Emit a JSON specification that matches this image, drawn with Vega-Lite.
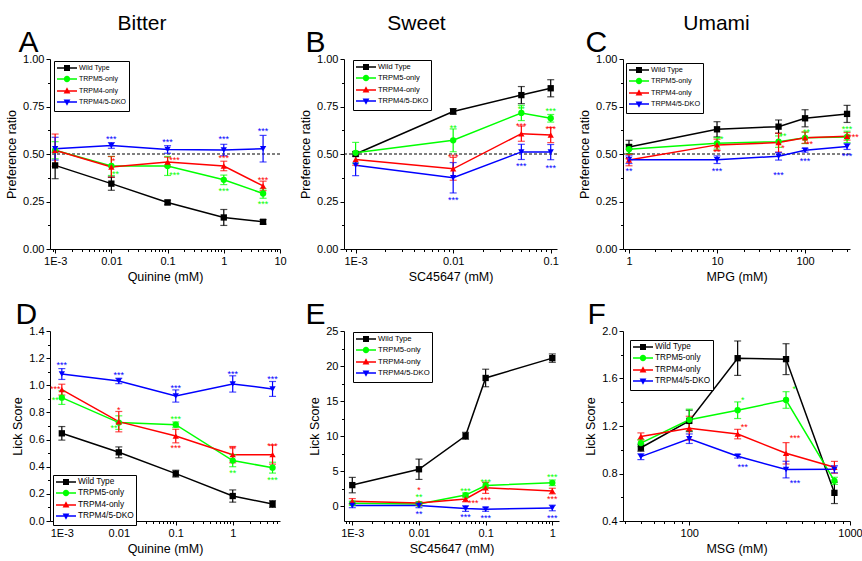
{
"$schema": "https://vega.github.io/schema/vega-lite/v6.json",
"padding": {"left": 5, "top": 13, "right": 5, "bottom": 5},
"config": {
  "font": "Liberation Sans",
  "view": {"stroke": null},
  "axis": {"grid": false, "domainColor": "#000", "domainWidth": 1, "tickColor": "#000", "tickWidth": 1, "labelColor": "#000", "titleColor": "#000", "labelFontSize": 11, "titleFontSize": 12.5, "titleFontWeight": "normal", "tickSize": 4, "labelPadding": 2, "labelFlush": false, "labelOverlap": false},
  "legend": {"strokeColor": "#000", "strokeWidth": 1, "fillColor": "#fff"},
  "title": {"fontSize": 21, "fontWeight": "normal", "color": "#000", "anchor": "middle", "frame": "group"}
},
"datasets": {
"pts": [
{"panel":"A","series":"Wild Type","x":0.001,"y":0.44,"err":0.07},
{"panel":"A","series":"Wild Type","x":0.01,"y":0.344,"err":0.035},
{"panel":"A","series":"Wild Type","x":0.1,"y":0.245,"err":0.012},
{"panel":"A","series":"Wild Type","x":1,"y":0.166,"err":0.042},
{"panel":"A","series":"Wild Type","x":5,"y":0.143,"err":0.012},
{"panel":"A","series":"TRPM5-only","x":0.001,"y":0.52,"err":0.045},
{"panel":"A","series":"TRPM5-only","x":0.01,"y":0.437,"err":0.05},
{"panel":"A","series":"TRPM5-only","x":0.1,"y":0.437,"err":0.05},
{"panel":"A","series":"TRPM5-only","x":1,"y":0.364,"err":0.025},
{"panel":"A","series":"TRPM5-only","x":5,"y":0.292,"err":0.025},
{"panel":"A","series":"TRPM4-only","x":0.001,"y":0.52,"err":0.085},
{"panel":"A","series":"TRPM4-only","x":0.01,"y":0.432,"err":0.055},
{"panel":"A","series":"TRPM4-only","x":0.1,"y":0.458,"err":0.025},
{"panel":"A","series":"TRPM4-only","x":1,"y":0.437,"err":0.025},
{"panel":"A","series":"TRPM4-only","x":5,"y":0.332,"err":0.025},
{"panel":"A","series":"TRPM4/5-DKO","x":0.001,"y":0.528,"err":0.06},
{"panel":"A","series":"TRPM4/5-DKO","x":0.01,"y":0.545,"err":0.015},
{"panel":"A","series":"TRPM4/5-DKO","x":0.1,"y":0.524,"err":0.02},
{"panel":"A","series":"TRPM4/5-DKO","x":1,"y":0.521,"err":0.03},
{"panel":"A","series":"TRPM4/5-DKO","x":5,"y":0.528,"err":0.07},
{"panel":"B","series":"Wild Type","x":0.001,"y":0.50,"err":0.012},
{"panel":"B","series":"Wild Type","x":0.01,"y":0.724,"err":0.015},
{"panel":"B","series":"Wild Type","x":0.05,"y":0.81,"err":0.045},
{"panel":"B","series":"Wild Type","x":0.1,"y":0.846,"err":0.045},
{"panel":"B","series":"TRPM5-only","x":0.001,"y":0.506,"err":0.055},
{"panel":"B","series":"TRPM5-only","x":0.01,"y":0.572,"err":0.06},
{"panel":"B","series":"TRPM5-only","x":0.05,"y":0.716,"err":0.04},
{"panel":"B","series":"TRPM5-only","x":0.1,"y":0.688,"err":0.02},
{"panel":"B","series":"TRPM4-only","x":0.001,"y":0.471,"err":0.03},
{"panel":"B","series":"TRPM4-only","x":0.01,"y":0.422,"err":0.06},
{"panel":"B","series":"TRPM4-only","x":0.05,"y":0.607,"err":0.04},
{"panel":"B","series":"TRPM4-only","x":0.1,"y":0.60,"err":0.04},
{"panel":"B","series":"TRPM4/5-DKO","x":0.001,"y":0.441,"err":0.055},
{"panel":"B","series":"TRPM4/5-DKO","x":0.01,"y":0.375,"err":0.08},
{"panel":"B","series":"TRPM4/5-DKO","x":0.05,"y":0.511,"err":0.04},
{"panel":"B","series":"TRPM4/5-DKO","x":0.1,"y":0.51,"err":0.04},
{"panel":"C","series":"Wild Type","x":1,"y":0.537,"err":0.035},
{"panel":"C","series":"Wild Type","x":10,"y":0.63,"err":0.04},
{"panel":"C","series":"Wild Type","x":50,"y":0.644,"err":0.035},
{"panel":"C","series":"Wild Type","x":100,"y":0.688,"err":0.045},
{"panel":"C","series":"Wild Type","x":300,"y":0.711,"err":0.045},
{"panel":"C","series":"TRPM5-only","x":1,"y":0.525,"err":0.025},
{"panel":"C","series":"TRPM5-only","x":10,"y":0.556,"err":0.03},
{"panel":"C","series":"TRPM5-only","x":50,"y":0.565,"err":0.03},
{"panel":"C","series":"TRPM5-only","x":100,"y":0.585,"err":0.03},
{"panel":"C","series":"TRPM5-only","x":300,"y":0.59,"err":0.03},
{"panel":"C","series":"TRPM4-only","x":1,"y":0.468,"err":0.03},
{"panel":"C","series":"TRPM4-only","x":10,"y":0.548,"err":0.03},
{"panel":"C","series":"TRPM4-only","x":50,"y":0.56,"err":0.05},
{"panel":"C","series":"TRPM4-only","x":100,"y":0.586,"err":0.03},
{"panel":"C","series":"TRPM4-only","x":300,"y":0.593,"err":0.02},
{"panel":"C","series":"TRPM4/5-DKO","x":1,"y":0.47,"err":0.02},
{"panel":"C","series":"TRPM4/5-DKO","x":10,"y":0.47,"err":0.02},
{"panel":"C","series":"TRPM4/5-DKO","x":50,"y":0.488,"err":0.02},
{"panel":"C","series":"TRPM4/5-DKO","x":100,"y":0.52,"err":0.01},
{"panel":"C","series":"TRPM4/5-DKO","x":300,"y":0.539,"err":0.015},
{"panel":"D","series":"Wild Type","x":0.001,"y":0.646,"err":0.05},
{"panel":"D","series":"Wild Type","x":0.01,"y":0.506,"err":0.04},
{"panel":"D","series":"Wild Type","x":0.1,"y":0.349,"err":0.025},
{"panel":"D","series":"Wild Type","x":1,"y":0.184,"err":0.045},
{"panel":"D","series":"Wild Type","x":5,"y":0.125,"err":0.025},
{"panel":"D","series":"TRPM5-only","x":0.001,"y":0.909,"err":0.05},
{"panel":"D","series":"TRPM5-only","x":0.01,"y":0.725,"err":0.05},
{"panel":"D","series":"TRPM5-only","x":0.1,"y":0.71,"err":0.02},
{"panel":"D","series":"TRPM5-only","x":1,"y":0.445,"err":0.045},
{"panel":"D","series":"TRPM5-only","x":5,"y":0.393,"err":0.04},
{"panel":"D","series":"TRPM4-only","x":0.001,"y":0.968,"err":0.04},
{"panel":"D","series":"TRPM4-only","x":0.01,"y":0.732,"err":0.075},
{"panel":"D","series":"TRPM4-only","x":0.1,"y":0.626,"err":0.05},
{"panel":"D","series":"TRPM4-only","x":1,"y":0.489,"err":0.06},
{"panel":"D","series":"TRPM4-only","x":5,"y":0.489,"err":0.07},
{"panel":"D","series":"TRPM4/5-DKO","x":0.001,"y":1.083,"err":0.04},
{"panel":"D","series":"TRPM4/5-DKO","x":0.01,"y":1.032,"err":0.02},
{"panel":"D","series":"TRPM4/5-DKO","x":0.1,"y":0.921,"err":0.045},
{"panel":"D","series":"TRPM4/5-DKO","x":1,"y":1.01,"err":0.06},
{"panel":"D","series":"TRPM4/5-DKO","x":5,"y":0.973,"err":0.055},
{"panel":"E","series":"Wild Type","x":0.001,"y":3.02,"err":1.1},
{"panel":"E","series":"Wild Type","x":0.01,"y":5.28,"err":1.45},
{"panel":"E","series":"Wild Type","x":0.05,"y":10.05,"err":0.5},
{"panel":"E","series":"Wild Type","x":0.1,"y":18.3,"err":1.25},
{"panel":"E","series":"Wild Type","x":1,"y":21.13,"err":0.6},
{"panel":"E","series":"TRPM5-only","x":0.001,"y":0.42,"err":0.3},
{"panel":"E","series":"TRPM5-only","x":0.01,"y":0.33,"err":0.2},
{"panel":"E","series":"TRPM5-only","x":0.05,"y":1.6,"err":0.3},
{"panel":"E","series":"TRPM5-only","x":0.1,"y":2.97,"err":0.4},
{"panel":"E","series":"TRPM5-only","x":1,"y":3.35,"err":0.4},
{"panel":"E","series":"TRPM4-only","x":0.001,"y":0.7,"err":0.4},
{"panel":"E","series":"TRPM4-only","x":0.01,"y":0.47,"err":0.2},
{"panel":"E","series":"TRPM4-only","x":0.05,"y":1.04,"err":0.4},
{"panel":"E","series":"TRPM4-only","x":0.1,"y":2.64,"err":0.8},
{"panel":"E","series":"TRPM4-only","x":1,"y":2.17,"err":0.4},
{"panel":"E","series":"TRPM4/5-DKO","x":0.001,"y":0.1,"err":0.3},
{"panel":"E","series":"TRPM4/5-DKO","x":0.01,"y":0.1,"err":0.3},
{"panel":"E","series":"TRPM4/5-DKO","x":0.05,"y":-0.33,"err":0.4},
{"panel":"E","series":"TRPM4/5-DKO","x":0.1,"y":-0.42,"err":0.3},
{"panel":"E","series":"TRPM4/5-DKO","x":1,"y":-0.24,"err":0.4},
{"panel":"F","series":"Wild Type","x":50,"y":1.017,"err":0.03},
{"panel":"F","series":"Wild Type","x":100,"y":1.243,"err":0.09},
{"panel":"F","series":"Wild Type","x":200,"y":1.771,"err":0.145},
{"panel":"F","series":"Wild Type","x":400,"y":1.763,"err":0.13},
{"panel":"F","series":"Wild Type","x":800,"y":0.637,"err":0.09},
{"panel":"F","series":"TRPM5-only","x":50,"y":1.056,"err":0.03},
{"panel":"F","series":"TRPM5-only","x":100,"y":1.252,"err":0.09},
{"panel":"F","series":"TRPM5-only","x":200,"y":1.333,"err":0.07},
{"panel":"F","series":"TRPM5-only","x":400,"y":1.419,"err":0.07},
{"panel":"F","series":"TRPM5-only","x":800,"y":0.738,"err":0.03},
{"panel":"F","series":"TRPM4-only","x":50,"y":1.112,"err":0.03},
{"panel":"F","series":"TRPM4-only","x":100,"y":1.182,"err":0.1},
{"panel":"F","series":"TRPM4-only","x":200,"y":1.132,"err":0.04},
{"panel":"F","series":"TRPM4-only","x":400,"y":0.97,"err":0.09},
{"panel":"F","series":"TRPM4-only","x":800,"y":0.852,"err":0.05},
{"panel":"F","series":"TRPM4/5-DKO","x":50,"y":0.942,"err":0.025},
{"panel":"F","series":"TRPM4/5-DKO","x":100,"y":1.093,"err":0.04},
{"panel":"F","series":"TRPM4/5-DKO","x":200,"y":0.945,"err":0.015},
{"panel":"F","series":"TRPM4/5-DKO","x":400,"y":0.833,"err":0.07},
{"panel":"F","series":"TRPM4/5-DKO","x":800,"y":0.836,"err":0.03}
],
"stars": [
{"panel":"A","series":"TRPM4/5-DKO","x":0.01,"y":0.59,"label":"***"},
{"panel":"A","series":"TRPM4/5-DKO","x":0.1,"y":0.575,"label":"***"},
{"panel":"A","series":"TRPM4/5-DKO","x":1,"y":0.59,"label":"***"},
{"panel":"A","series":"TRPM4/5-DKO","x":5,"y":0.633,"label":"***"},
{"panel":"A","series":"TRPM4-only","x":0.0109,"y":0.473,"label":"*"},
{"panel":"A","series":"TRPM5-only","x":0.0118,"y":0.405,"label":"**"},
{"panel":"A","series":"TRPM4-only","x":0.133,"y":0.477,"label":"***"},
{"panel":"A","series":"TRPM5-only","x":0.133,"y":0.40,"label":"***"},
{"panel":"A","series":"TRPM4-only","x":1,"y":0.49,"label":"***"},
{"panel":"A","series":"TRPM5-only","x":1,"y":0.318,"label":"***"},
{"panel":"A","series":"TRPM4-only","x":5,"y":0.372,"label":"***"},
{"panel":"A","series":"TRPM5-only","x":5,"y":0.245,"label":"***"},
{"panel":"B","series":"TRPM5-only","x":0.01,"y":0.646,"label":"**"},
{"panel":"B","series":"TRPM4-only","x":0.01,"y":0.494,"label":"***"},
{"panel":"B","series":"TRPM4/5-DKO","x":0.01,"y":0.27,"label":"***"},
{"panel":"B","series":"TRPM5-only","x":0.05,"y":0.75,"label":"**"},
{"panel":"B","series":"TRPM4-only","x":0.05,"y":0.658,"label":"***"},
{"panel":"B","series":"TRPM4/5-DKO","x":0.05,"y":0.449,"label":"***"},
{"panel":"B","series":"TRPM5-only","x":0.1,"y":0.736,"label":"***"},
{"panel":"B","series":"TRPM4-only","x":0.1,"y":0.644,"label":"***"},
{"panel":"B","series":"TRPM4/5-DKO","x":0.1,"y":0.436,"label":"***"},
{"panel":"C","series":"TRPM4-only","x":0.95,"y":0.48,"label":"*"},
{"panel":"C","series":"TRPM4/5-DKO","x":1,"y":0.419,"label":"**"},
{"panel":"C","series":"TRPM5-only","x":10.8,"y":0.59,"label":"**"},
{"panel":"C","series":"TRPM4-only","x":10,"y":0.52,"label":"**"},
{"panel":"C","series":"TRPM4/5-DKO","x":10,"y":0.423,"label":"***"},
{"panel":"C","series":"TRPM5-only","x":56,"y":0.604,"label":"**"},
{"panel":"C","series":"TRPM4-only","x":56,"y":0.54,"label":"*"},
{"panel":"C","series":"TRPM4/5-DKO","x":50,"y":0.398,"label":"***"},
{"panel":"C","series":"TRPM5-only","x":104,"y":0.625,"label":"**"},
{"panel":"C","series":"TRPM4-only","x":112,"y":0.563,"label":"**"},
{"panel":"C","series":"TRPM4/5-DKO","x":100,"y":0.472,"label":"***"},
{"panel":"C","series":"TRPM5-only","x":300,"y":0.644,"label":"***"},
{"panel":"C","series":"TRPM4-only","x":355,"y":0.599,"label":"***"},
{"panel":"C","series":"TRPM4/5-DKO","x":300,"y":0.50,"label":"***"},
{"panel":"D","series":"TRPM4/5-DKO","x":0.001,"y":1.164,"label":"***"},
{"panel":"D","series":"TRPM4/5-DKO","x":0.01,"y":1.09,"label":"***"},
{"panel":"D","series":"TRPM4/5-DKO","x":0.1,"y":0.997,"label":"***"},
{"panel":"D","series":"TRPM4/5-DKO","x":1,"y":1.096,"label":"***"},
{"panel":"D","series":"TRPM4/5-DKO","x":5,"y":1.061,"label":"***"},
{"panel":"D","series":"TRPM4-only","x":0.00077,"y":0.987,"label":"***"},
{"panel":"D","series":"TRPM5-only","x":0.00082,"y":0.909,"label":"***"},
{"panel":"D","series":"TRPM4-only","x":0.01,"y":0.835,"label":"*"},
{"panel":"D","series":"TRPM5-only","x":0.0082,"y":0.70,"label":"**"},
{"panel":"D","series":"TRPM5-only","x":0.1,"y":0.766,"label":"***"},
{"panel":"D","series":"TRPM4-only","x":0.1,"y":0.553,"label":"***"},
{"panel":"D","series":"TRPM4-only","x":1,"y":0.545,"label":"**"},
{"panel":"D","series":"TRPM5-only","x":1,"y":0.368,"label":"**"},
{"panel":"D","series":"TRPM4-only","x":5,"y":0.57,"label":"***"},
{"panel":"D","series":"TRPM5-only","x":5,"y":0.319,"label":"***"},
{"panel":"E","series":"TRPM4-only","x":0.01,"y":2.6,"label":"*"},
{"panel":"E","series":"TRPM5-only","x":0.01,"y":1.65,"label":"**"},
{"panel":"E","series":"TRPM4/5-DKO","x":0.01,"y":-0.85,"label":"**"},
{"panel":"E","series":"TRPM5-only","x":0.05,"y":2.45,"label":"***"},
{"panel":"E","series":"TRPM4-only","x":0.065,"y":0.7,"label":"***"},
{"panel":"E","series":"TRPM4/5-DKO","x":0.05,"y":-1.23,"label":"***"},
{"panel":"E","series":"TRPM5-only","x":0.1,"y":3.77,"label":"***"},
{"panel":"E","series":"TRPM4-only","x":0.1,"y":1.23,"label":"***"},
{"panel":"E","series":"TRPM4/5-DKO","x":0.1,"y":-1.42,"label":"***"},
{"panel":"E","series":"TRPM5-only","x":1,"y":4.39,"label":"***"},
{"panel":"E","series":"TRPM4-only","x":1,"y":1.37,"label":"***"},
{"panel":"E","series":"TRPM4/5-DKO","x":1,"y":-1.32,"label":"***"},
{"panel":"F","series":"TRPM5-only","x":215,"y":1.433,"label":"*"},
{"panel":"F","series":"TRPM4-only","x":220,"y":1.207,"label":"**"},
{"panel":"F","series":"TRPM4/5-DKO","x":215,"y":0.875,"label":"***"},
{"panel":"F","series":"TRPM5-only","x":450,"y":1.525,"label":"*"},
{"panel":"F","series":"TRPM4-only","x":455,"y":1.112,"label":"***"},
{"panel":"F","series":"TRPM4/5-DKO","x":455,"y":0.735,"label":"***"}
]
},
"columns": 3,
"bounds": "flush",
"spacing": {"column": 64, "row": 82},
"resolve": {"scale": {"color": "independent", "shape": "independent"}},
"concat": [
{
 "width": 230, "height": 190,
 "title": {"text": "Bitter", "dx": -23, "offset": -7},
 "data": {"name": "pts"},
 "transform": [{"filter": "datum.panel === 'A'"}],
 "resolve": {"axis": {"x": "independent", "y": "independent"}, "scale": {"color": "independent", "shape": "independent"}},
 "layer": [
  {"data": {"values": [{"ref": 0.5}]}, "mark": {"type": "rule", "strokeDash": [3, 2], "color": "#000", "strokeWidth": 1},
   "encoding": {"y": {"field": "ref", "type": "quantitative", "scale": {"domain": [0, 1], "nice": false}, "axis": null}}},
  {"mark": {"type": "line", "strokeWidth": 1.5},
   "encoding": {
    "x": {"field": "x", "type": "quantitative", "scale": {"type": "log", "domain": [0.00081, 10], "nice": false}, "axis": {"values": [0.001, 0.01, 0.1, 1, 10], "format": "~g", "labelExpr": "datum.value < 0.005 ? '1E-3' : datum.label", "title": "Quinine (mM)"}},
    "y": {"field": "y", "type": "quantitative", "scale": {"domain": [0, 1], "nice": false}, "axis": {"values": [0, 0.25, 0.5, 0.75, 1], "format": ".2f", "title": "Preference ratio"}},
    "color": {"field": "series", "type": "nominal", "scale": {"domain": ["TRPM4/5-DKO", "TRPM4-only", "TRPM5-only", "Wild Type"], "range": ["#0000ff", "#ff0000", "#00ff00", "#000000"]}, "legend": null}}},
  {"mark": {"type": "errorbar", "ticks": {"size": 7}, "thickness": 1.2},
   "encoding": {
    "x": {"field": "x", "type": "quantitative", "scale": {"type": "log", "domain": [0.00081, 10], "nice": false}, "axis": null},
    "y": {"field": "y", "type": "quantitative", "scale": {"domain": [0, 1], "nice": false}, "axis": null},
    "yError": {"field": "err"},
    "color": {"field": "series", "type": "nominal", "scale": {"domain": ["TRPM4/5-DKO", "TRPM4-only", "TRPM5-only", "Wild Type"], "range": ["#0000ff", "#ff0000", "#00ff00", "#000000"]}, "legend": null}}},
  {"mark": {"type": "point", "filled": true, "size": 40, "opacity": 1},
   "encoding": {
    "x": {"field": "x", "type": "quantitative", "scale": {"type": "log", "domain": [0.00081, 10], "nice": false}, "axis": {"orient": "bottom", "values": [0.0009, 0.002, 0.003, 0.004, 0.005, 0.006, 0.007, 0.008, 0.009, 0.02, 0.03, 0.04, 0.05, 0.06, 0.07, 0.08, 0.09, 0.2, 0.3, 0.4, 0.5, 0.6, 0.7, 0.8, 0.9, 2, 3, 4, 5, 6, 7, 8, 9], "labels": false, "domain": false, "tickSize": 2.5, "title": null}},
    "y": {"field": "y", "type": "quantitative", "scale": {"domain": [0, 1], "nice": false}, "axis": {"orient": "left", "values": [0.125, 0.375, 0.625, 0.875], "labels": false, "domain": false, "tickSize": 2.5, "title": null}},
    "color": {"field": "series", "type": "nominal", "scale": {"domain": ["TRPM4/5-DKO", "TRPM4-only", "TRPM5-only", "Wild Type"], "range": ["#0000ff", "#ff0000", "#00ff00", "#000000"]}, "legend": null},
    "shape": {"field": "series", "type": "nominal", "scale": {"domain": ["Wild Type", "TRPM5-only", "TRPM4-only", "TRPM4/5-DKO"], "range": ["square", "circle", "triangle-up", "triangle-down"]}, "legend": null}}},
  {"mark": {"type": "point", "filled": true, "opacity": 0},
   "encoding": {
    "x": {"field": "x", "type": "quantitative", "scale": {"type": "log", "domain": [0.00081, 10], "nice": false}, "axis": null},
    "y": {"field": "y", "type": "quantitative", "scale": {"domain": [0, 1], "nice": false}, "axis": null},
    "color": {"field": "series", "type": "nominal", "scale": {"domain": ["Wild Type", "TRPM5-only", "TRPM4-only", "TRPM4/5-DKO"], "range": ["#000000", "#00ff00", "#ff0000", "#0000ff"]},
     "legend": {"title": null, "orient": "none", "legendX": 4, "legendY": 2, "padding": 2, "strokeColor": "#000", "fillColor": "#fff", "labelFontSize": 7, "labelColor": "#000", "symbolSize": 64, "symbolOpacity": 1, "labelOffset": 13, "rowPadding": -2}},
    "shape": {"field": "series", "type": "nominal", "scale": {"domain": ["Wild Type", "TRPM5-only", "TRPM4-only", "TRPM4/5-DKO"], "range": ["M-1,-0.19H4V0.19H-1ZM0.75,-0.75H2.25V0.75H0.75Z", "M-1,-0.19H4V0.19H-1ZM2.3,0A0.8,0.8,0,1,1,0.7,0A0.8,0.8,0,1,1,2.3,0Z", "M-1,-0.19H4V0.19H-1ZM1.5,-0.95L2.35,0.6H0.65Z", "M-1,-0.19H4V0.19H-1ZM1.5,0.95L0.65,-0.6H2.35Z"]},
     "legend": {"title": null, "orient": "none", "legendX": 4, "legendY": 2, "padding": 2, "strokeColor": "#000", "fillColor": "#fff", "labelFontSize": 7, "labelColor": "#000", "symbolSize": 64, "symbolOpacity": 1, "labelOffset": 13, "rowPadding": -2}}}},
  {"data": {"name": "stars"}, "transform": [{"filter": "datum.panel === 'A'"}],
   "mark": {"type": "text", "fontSize": 9, "dy": 2},
   "encoding": {
    "x": {"field": "x", "type": "quantitative", "scale": {"type": "log", "domain": [0.00081, 10], "nice": false}, "axis": {"orient": "top", "labels": false, "ticks": false, "domain": false, "title": "A", "titleFontSize": 30, "titleFontWeight": "normal", "titleX": -32, "titleY": -8, "titleAlign": "left", "titleBaseline": "alphabetic", "titleAngle": 0}},
    "y": {"field": "y", "type": "quantitative", "scale": {"domain": [0, 1], "nice": false}, "axis": null},
    "text": {"field": "label"},
    "color": {"field": "series", "type": "nominal", "scale": {"domain": ["TRPM4/5-DKO", "TRPM4-only", "TRPM5-only", "Wild Type"], "range": ["#0000ff", "#ff0000", "#00ff00", "#000000"]}, "legend": null}}}
 ]
},
{
 "width": 213, "height": 190,
 "title": {"text": "Sweet", "dx": -34, "offset": -7},
 "data": {"name": "pts"},
 "transform": [{"filter": "datum.panel === 'B'"}],
 "resolve": {"axis": {"x": "independent", "y": "independent"}, "scale": {"color": "independent", "shape": "independent"}},
 "layer": [
  {"data": {"values": [{"ref": 0.5}]}, "mark": {"type": "rule", "strokeDash": [3, 2], "color": "#000", "strokeWidth": 1},
   "encoding": {"y": {"field": "ref", "type": "quantitative", "scale": {"domain": [0, 1], "nice": false}, "axis": null}}},
  {"mark": {"type": "line", "strokeWidth": 1.5},
   "encoding": {
    "x": {"field": "x", "type": "quantitative", "scale": {"type": "log", "domain": [0.00076, 0.116], "nice": false}, "axis": {"values": [0.001, 0.01, 0.1], "format": "~g", "labelExpr": "datum.value < 0.005 ? '1E-3' : datum.label", "title": "SC45647 (mM)"}},
    "y": {"field": "y", "type": "quantitative", "scale": {"domain": [0, 1], "nice": false}, "axis": {"values": [0, 0.25, 0.5, 0.75, 1], "format": ".2f", "title": "Preference ratio"}},
    "color": {"field": "series", "type": "nominal", "scale": {"domain": ["TRPM4/5-DKO", "TRPM4-only", "TRPM5-only", "Wild Type"], "range": ["#0000ff", "#ff0000", "#00ff00", "#000000"]}, "legend": null}}},
  {"mark": {"type": "errorbar", "ticks": {"size": 7}, "thickness": 1.2},
   "encoding": {
    "x": {"field": "x", "type": "quantitative", "scale": {"type": "log", "domain": [0.00076, 0.116], "nice": false}, "axis": null},
    "y": {"field": "y", "type": "quantitative", "scale": {"domain": [0, 1], "nice": false}, "axis": null},
    "yError": {"field": "err"},
    "color": {"field": "series", "type": "nominal", "scale": {"domain": ["TRPM4/5-DKO", "TRPM4-only", "TRPM5-only", "Wild Type"], "range": ["#0000ff", "#ff0000", "#00ff00", "#000000"]}, "legend": null}}},
  {"mark": {"type": "point", "filled": true, "size": 40, "opacity": 1},
   "encoding": {
    "x": {"field": "x", "type": "quantitative", "scale": {"type": "log", "domain": [0.00076, 0.116], "nice": false}, "axis": {"orient": "bottom", "values": [0.0008, 0.0009, 0.002, 0.003, 0.004, 0.005, 0.006, 0.007, 0.008, 0.009, 0.02, 0.03, 0.04, 0.05, 0.06, 0.07, 0.08, 0.09], "labels": false, "domain": false, "tickSize": 2.5, "title": null}},
    "y": {"field": "y", "type": "quantitative", "scale": {"domain": [0, 1], "nice": false}, "axis": {"orient": "left", "values": [0.125, 0.375, 0.625, 0.875], "labels": false, "domain": false, "tickSize": 2.5, "title": null}},
    "color": {"field": "series", "type": "nominal", "scale": {"domain": ["TRPM4/5-DKO", "TRPM4-only", "TRPM5-only", "Wild Type"], "range": ["#0000ff", "#ff0000", "#00ff00", "#000000"]}, "legend": null},
    "shape": {"field": "series", "type": "nominal", "scale": {"domain": ["Wild Type", "TRPM5-only", "TRPM4-only", "TRPM4/5-DKO"], "range": ["square", "circle", "triangle-up", "triangle-down"]}, "legend": null}}},
  {"mark": {"type": "point", "filled": true, "opacity": 0},
   "encoding": {
    "x": {"field": "x", "type": "quantitative", "scale": {"type": "log", "domain": [0.00076, 0.116], "nice": false}, "axis": null},
    "y": {"field": "y", "type": "quantitative", "scale": {"domain": [0, 1], "nice": false}, "axis": null},
    "color": {"field": "series", "type": "nominal", "scale": {"domain": ["Wild Type", "TRPM5-only", "TRPM4-only", "TRPM4/5-DKO"], "range": ["#000000", "#00ff00", "#ff0000", "#0000ff"]},
     "legend": {"title": null, "orient": "none", "legendX": 9, "legendY": 1, "padding": 2, "strokeColor": "#000", "fillColor": "#fff", "labelFontSize": 7.5, "labelColor": "#000", "symbolSize": 64, "symbolOpacity": 1, "labelOffset": 13, "rowPadding": -2}},
    "shape": {"field": "series", "type": "nominal", "scale": {"domain": ["Wild Type", "TRPM5-only", "TRPM4-only", "TRPM4/5-DKO"], "range": ["M-1,-0.19H4V0.19H-1ZM0.75,-0.75H2.25V0.75H0.75Z", "M-1,-0.19H4V0.19H-1ZM2.3,0A0.8,0.8,0,1,1,0.7,0A0.8,0.8,0,1,1,2.3,0Z", "M-1,-0.19H4V0.19H-1ZM1.5,-0.95L2.35,0.6H0.65Z", "M-1,-0.19H4V0.19H-1ZM1.5,0.95L0.65,-0.6H2.35Z"]},
     "legend": {"title": null, "orient": "none", "legendX": 9, "legendY": 1, "padding": 2, "strokeColor": "#000", "fillColor": "#fff", "labelFontSize": 7.5, "labelColor": "#000", "symbolSize": 64, "symbolOpacity": 1, "labelOffset": 13, "rowPadding": -2}}}},
  {"data": {"name": "stars"}, "transform": [{"filter": "datum.panel === 'B'"}],
   "mark": {"type": "text", "fontSize": 9, "dy": 2},
   "encoding": {
    "x": {"field": "x", "type": "quantitative", "scale": {"type": "log", "domain": [0.00076, 0.116], "nice": false}, "axis": {"orient": "top", "labels": false, "ticks": false, "domain": false, "title": "B", "titleFontSize": 30, "titleFontWeight": "normal", "titleX": -39, "titleY": -8, "titleAlign": "left", "titleBaseline": "alphabetic", "titleAngle": 0}},
    "y": {"field": "y", "type": "quantitative", "scale": {"domain": [0, 1], "nice": false}, "axis": null},
    "text": {"field": "label"},
    "color": {"field": "series", "type": "nominal", "scale": {"domain": ["TRPM4/5-DKO", "TRPM4-only", "TRPM5-only", "Wild Type"], "range": ["#0000ff", "#ff0000", "#00ff00", "#000000"]}, "legend": null}}}
 ]
},
{
 "width": 227, "height": 190,
 "title": {"text": "Umami", "dx": -20, "offset": -7},
 "data": {"name": "pts"},
 "transform": [{"filter": "datum.panel === 'C'"}],
 "resolve": {"axis": {"x": "independent", "y": "independent"}, "scale": {"color": "independent", "shape": "independent"}},
 "layer": [
  {"data": {"values": [{"ref": 0.5}]}, "mark": {"type": "rule", "strokeDash": [3, 2], "color": "#000", "strokeWidth": 1},
   "encoding": {"y": {"field": "ref", "type": "quantitative", "scale": {"domain": [0, 1], "nice": false}, "axis": null}}},
  {"mark": {"type": "line", "strokeWidth": 1.5},
   "encoding": {
    "x": {"field": "x", "type": "quantitative", "scale": {"type": "log", "domain": [0.855, 324], "nice": false}, "axis": {"values": [1, 10, 100], "format": "~g", "title": "MPG (mM)"}},
    "y": {"field": "y", "type": "quantitative", "scale": {"domain": [0, 1], "nice": false}, "axis": {"values": [0, 0.25, 0.5, 0.75, 1], "format": ".2f", "title": "Preference ratio"}},
    "color": {"field": "series", "type": "nominal", "scale": {"domain": ["TRPM4/5-DKO", "TRPM4-only", "TRPM5-only", "Wild Type"], "range": ["#0000ff", "#ff0000", "#00ff00", "#000000"]}, "legend": null}}},
  {"mark": {"type": "errorbar", "ticks": {"size": 7}, "thickness": 1.2},
   "encoding": {
    "x": {"field": "x", "type": "quantitative", "scale": {"type": "log", "domain": [0.855, 324], "nice": false}, "axis": null},
    "y": {"field": "y", "type": "quantitative", "scale": {"domain": [0, 1], "nice": false}, "axis": null},
    "yError": {"field": "err"},
    "color": {"field": "series", "type": "nominal", "scale": {"domain": ["TRPM4/5-DKO", "TRPM4-only", "TRPM5-only", "Wild Type"], "range": ["#0000ff", "#ff0000", "#00ff00", "#000000"]}, "legend": null}}},
  {"mark": {"type": "point", "filled": true, "size": 40, "opacity": 1},
   "encoding": {
    "x": {"field": "x", "type": "quantitative", "scale": {"type": "log", "domain": [0.855, 324], "nice": false}, "axis": {"orient": "bottom", "values": [0.9, 2, 3, 4, 5, 6, 7, 8, 9, 20, 30, 40, 50, 60, 70, 80, 90, 200, 300], "labels": false, "domain": false, "tickSize": 2.5, "title": null}},
    "y": {"field": "y", "type": "quantitative", "scale": {"domain": [0, 1], "nice": false}, "axis": {"orient": "left", "values": [0.125, 0.375, 0.625, 0.875], "labels": false, "domain": false, "tickSize": 2.5, "title": null}},
    "color": {"field": "series", "type": "nominal", "scale": {"domain": ["TRPM4/5-DKO", "TRPM4-only", "TRPM5-only", "Wild Type"], "range": ["#0000ff", "#ff0000", "#00ff00", "#000000"]}, "legend": null},
    "shape": {"field": "series", "type": "nominal", "scale": {"domain": ["Wild Type", "TRPM5-only", "TRPM4-only", "TRPM4/5-DKO"], "range": ["square", "circle", "triangle-up", "triangle-down"]}, "legend": null}}},
  {"mark": {"type": "point", "filled": true, "opacity": 0},
   "encoding": {
    "x": {"field": "x", "type": "quantitative", "scale": {"type": "log", "domain": [0.855, 324], "nice": false}, "axis": null},
    "y": {"field": "y", "type": "quantitative", "scale": {"domain": [0, 1], "nice": false}, "axis": null},
    "color": {"field": "series", "type": "nominal", "scale": {"domain": ["Wild Type", "TRPM5-only", "TRPM4-only", "TRPM4/5-DKO"], "range": ["#000000", "#00ff00", "#ff0000", "#0000ff"]},
     "legend": {"title": null, "orient": "none", "legendX": 3, "legendY": 4, "padding": 2, "strokeColor": "#000", "fillColor": "#fff", "labelFontSize": 7.3, "labelColor": "#000", "symbolSize": 64, "symbolOpacity": 1, "labelOffset": 13, "rowPadding": -2}},
    "shape": {"field": "series", "type": "nominal", "scale": {"domain": ["Wild Type", "TRPM5-only", "TRPM4-only", "TRPM4/5-DKO"], "range": ["M-1,-0.19H4V0.19H-1ZM0.75,-0.75H2.25V0.75H0.75Z", "M-1,-0.19H4V0.19H-1ZM2.3,0A0.8,0.8,0,1,1,0.7,0A0.8,0.8,0,1,1,2.3,0Z", "M-1,-0.19H4V0.19H-1ZM1.5,-0.95L2.35,0.6H0.65Z", "M-1,-0.19H4V0.19H-1ZM1.5,0.95L0.65,-0.6H2.35Z"]},
     "legend": {"title": null, "orient": "none", "legendX": 3, "legendY": 4, "padding": 2, "strokeColor": "#000", "fillColor": "#fff", "labelFontSize": 7.3, "labelColor": "#000", "symbolSize": 64, "symbolOpacity": 1, "labelOffset": 13, "rowPadding": -2}}}},
  {"data": {"name": "stars"}, "transform": [{"filter": "datum.panel === 'C'"}],
   "mark": {"type": "text", "fontSize": 9, "dy": 2},
   "encoding": {
    "x": {"field": "x", "type": "quantitative", "scale": {"type": "log", "domain": [0.855, 324], "nice": false}, "axis": {"orient": "top", "labels": false, "ticks": false, "domain": false, "title": "C", "titleFontSize": 30, "titleFontWeight": "normal", "titleX": -38, "titleY": -8, "titleAlign": "left", "titleBaseline": "alphabetic", "titleAngle": 0}},
    "y": {"field": "y", "type": "quantitative", "scale": {"domain": [0, 1], "nice": false}, "axis": null},
    "text": {"field": "label"},
    "color": {"field": "series", "type": "nominal", "scale": {"domain": ["TRPM4/5-DKO", "TRPM4-only", "TRPM5-only", "Wild Type"], "range": ["#0000ff", "#ff0000", "#00ff00", "#000000"]}, "legend": null}}}
 ]
},
{
 "width": 230, "height": 190,
 "data": {"name": "pts"},
 "transform": [{"filter": "datum.panel === 'D'"}],
 "resolve": {"axis": {"x": "independent", "y": "independent"}, "scale": {"color": "independent", "shape": "independent"}},
 "layer": [
  {"mark": {"type": "line", "strokeWidth": 1.5},
   "encoding": {
    "x": {"field": "x", "type": "quantitative", "scale": {"type": "log", "domain": [0.00062, 6.76], "nice": false}, "axis": {"values": [0.001, 0.01, 0.1, 1], "format": "~g", "labelExpr": "datum.value < 0.005 ? '1E-3' : datum.label", "title": "Quinine (mM)"}},
    "y": {"field": "y", "type": "quantitative", "scale": {"domain": [0, 1.4], "nice": false}, "axis": {"values": [0, 0.2, 0.4, 0.6, 0.8, 1, 1.2, 1.4], "format": ".1f", "title": "Lick Score"}},
    "color": {"field": "series", "type": "nominal", "scale": {"domain": ["TRPM4/5-DKO", "TRPM4-only", "TRPM5-only", "Wild Type"], "range": ["#0000ff", "#ff0000", "#00ff00", "#000000"]}, "legend": null}}},
  {"mark": {"type": "errorbar", "ticks": {"size": 7}, "thickness": 1.2},
   "encoding": {
    "x": {"field": "x", "type": "quantitative", "scale": {"type": "log", "domain": [0.00062, 6.76], "nice": false}, "axis": null},
    "y": {"field": "y", "type": "quantitative", "scale": {"domain": [0, 1.4], "nice": false}, "axis": null},
    "yError": {"field": "err"},
    "color": {"field": "series", "type": "nominal", "scale": {"domain": ["TRPM4/5-DKO", "TRPM4-only", "TRPM5-only", "Wild Type"], "range": ["#0000ff", "#ff0000", "#00ff00", "#000000"]}, "legend": null}}},
  {"mark": {"type": "point", "filled": true, "size": 40, "opacity": 1},
   "encoding": {
    "x": {"field": "x", "type": "quantitative", "scale": {"type": "log", "domain": [0.00062, 6.76], "nice": false}, "axis": {"orient": "bottom", "values": [0.0007, 0.0008, 0.0009, 0.002, 0.003, 0.004, 0.005, 0.006, 0.007, 0.008, 0.009, 0.02, 0.03, 0.04, 0.05, 0.06, 0.07, 0.08, 0.09, 0.2, 0.3, 0.4, 0.5, 0.6, 0.7, 0.8, 0.9, 2, 3, 4, 5, 6], "labels": false, "domain": false, "tickSize": 2.5, "title": null}},
    "y": {"field": "y", "type": "quantitative", "scale": {"domain": [0, 1.4], "nice": false}, "axis": {"orient": "left", "values": [0.1, 0.3, 0.5, 0.7, 0.9, 1.1, 1.3], "labels": false, "domain": false, "tickSize": 2.5, "title": null}},
    "color": {"field": "series", "type": "nominal", "scale": {"domain": ["TRPM4/5-DKO", "TRPM4-only", "TRPM5-only", "Wild Type"], "range": ["#0000ff", "#ff0000", "#00ff00", "#000000"]}, "legend": null},
    "shape": {"field": "series", "type": "nominal", "scale": {"domain": ["Wild Type", "TRPM5-only", "TRPM4-only", "TRPM4/5-DKO"], "range": ["square", "circle", "triangle-up", "triangle-down"]}, "legend": null}}},
  {"mark": {"type": "point", "filled": true, "opacity": 0},
   "encoding": {
    "x": {"field": "x", "type": "quantitative", "scale": {"type": "log", "domain": [0.00062, 6.76], "nice": false}, "axis": null},
    "y": {"field": "y", "type": "quantitative", "scale": {"domain": [0, 1.4], "nice": false}, "axis": null},
    "color": {"field": "series", "type": "nominal", "scale": {"domain": ["Wild Type", "TRPM5-only", "TRPM4-only", "TRPM4/5-DKO"], "range": ["#000000", "#00ff00", "#ff0000", "#0000ff"]},
     "legend": {"title": null, "orient": "none", "legendX": 3, "legendY": 144, "padding": 2, "strokeColor": "#000", "fillColor": "#fff", "labelFontSize": 8.3, "labelColor": "#000", "symbolSize": 64, "symbolOpacity": 1, "labelOffset": 13, "rowPadding": -2}},
    "shape": {"field": "series", "type": "nominal", "scale": {"domain": ["Wild Type", "TRPM5-only", "TRPM4-only", "TRPM4/5-DKO"], "range": ["M-1,-0.19H4V0.19H-1ZM0.75,-0.75H2.25V0.75H0.75Z", "M-1,-0.19H4V0.19H-1ZM2.3,0A0.8,0.8,0,1,1,0.7,0A0.8,0.8,0,1,1,2.3,0Z", "M-1,-0.19H4V0.19H-1ZM1.5,-0.95L2.35,0.6H0.65Z", "M-1,-0.19H4V0.19H-1ZM1.5,0.95L0.65,-0.6H2.35Z"]},
     "legend": {"title": null, "orient": "none", "legendX": 3, "legendY": 144, "padding": 2, "strokeColor": "#000", "fillColor": "#fff", "labelFontSize": 8.3, "labelColor": "#000", "symbolSize": 64, "symbolOpacity": 1, "labelOffset": 13, "rowPadding": -2}}}},
  {"data": {"name": "stars"}, "transform": [{"filter": "datum.panel === 'D'"}],
   "mark": {"type": "text", "fontSize": 9, "dy": 2},
   "encoding": {
    "x": {"field": "x", "type": "quantitative", "scale": {"type": "log", "domain": [0.00062, 6.76], "nice": false}, "axis": {"orient": "top", "labels": false, "ticks": false, "domain": false, "title": "D", "titleFontSize": 30, "titleFontWeight": "normal", "titleX": -35, "titleY": -8, "titleAlign": "left", "titleBaseline": "alphabetic", "titleAngle": 0}},
    "y": {"field": "y", "type": "quantitative", "scale": {"domain": [0, 1.4], "nice": false}, "axis": null},
    "text": {"field": "label"},
    "color": {"field": "series", "type": "nominal", "scale": {"domain": ["TRPM4/5-DKO", "TRPM4-only", "TRPM5-only", "Wild Type"], "range": ["#0000ff", "#ff0000", "#00ff00", "#000000"]}, "legend": null}}}
 ]
},
{
 "width": 215, "height": 190,
 "data": {"name": "pts"},
 "transform": [{"filter": "datum.panel === 'E'"}],
 "resolve": {"axis": {"x": "independent", "y": "independent"}, "scale": {"color": "independent", "shape": "independent"}},
 "layer": [
  {"mark": {"type": "line", "strokeWidth": 1.5},
   "encoding": {
    "x": {"field": "x", "type": "quantitative", "scale": {"type": "log", "domain": [0.000751, 1.26], "nice": false}, "axis": {"values": [0.001, 0.01, 0.1, 1], "format": "~g", "labelExpr": "datum.value < 0.005 ? '1E-3' : datum.label", "title": "SC45647 (mM)"}},
    "y": {"field": "y", "type": "quantitative", "scale": {"domain": [-2.1, 25], "nice": false, "zero": false}, "axis": {"values": [0, 5, 10, 15, 20, 25], "format": "d", "title": "Lick Score"}},
    "color": {"field": "series", "type": "nominal", "scale": {"domain": ["TRPM4/5-DKO", "TRPM4-only", "TRPM5-only", "Wild Type"], "range": ["#0000ff", "#ff0000", "#00ff00", "#000000"]}, "legend": null}}},
  {"mark": {"type": "errorbar", "ticks": {"size": 7}, "thickness": 1.2},
   "encoding": {
    "x": {"field": "x", "type": "quantitative", "scale": {"type": "log", "domain": [0.000751, 1.26], "nice": false}, "axis": null},
    "y": {"field": "y", "type": "quantitative", "scale": {"domain": [-2.1, 25], "nice": false, "zero": false}, "axis": null},
    "yError": {"field": "err"},
    "color": {"field": "series", "type": "nominal", "scale": {"domain": ["TRPM4/5-DKO", "TRPM4-only", "TRPM5-only", "Wild Type"], "range": ["#0000ff", "#ff0000", "#00ff00", "#000000"]}, "legend": null}}},
  {"mark": {"type": "point", "filled": true, "size": 40, "opacity": 1},
   "encoding": {
    "x": {"field": "x", "type": "quantitative", "scale": {"type": "log", "domain": [0.000751, 1.26], "nice": false}, "axis": {"orient": "bottom", "values": [0.0008, 0.0009, 0.002, 0.003, 0.004, 0.005, 0.006, 0.007, 0.008, 0.009, 0.02, 0.03, 0.04, 0.05, 0.06, 0.07, 0.08, 0.09, 0.2, 0.3, 0.4, 0.5, 0.6, 0.7, 0.8, 0.9], "labels": false, "domain": false, "tickSize": 2.5, "title": null}},
    "y": {"field": "y", "type": "quantitative", "scale": {"domain": [-2.1, 25], "nice": false, "zero": false}, "axis": {"orient": "left", "values": [2.5, 7.5, 12.5, 17.5, 22.5], "labels": false, "domain": false, "tickSize": 2.5, "title": null}},
    "color": {"field": "series", "type": "nominal", "scale": {"domain": ["TRPM4/5-DKO", "TRPM4-only", "TRPM5-only", "Wild Type"], "range": ["#0000ff", "#ff0000", "#00ff00", "#000000"]}, "legend": null},
    "shape": {"field": "series", "type": "nominal", "scale": {"domain": ["Wild Type", "TRPM5-only", "TRPM4-only", "TRPM4/5-DKO"], "range": ["square", "circle", "triangle-up", "triangle-down"]}, "legend": null}}},
  {"mark": {"type": "point", "filled": true, "opacity": 0},
   "encoding": {
    "x": {"field": "x", "type": "quantitative", "scale": {"type": "log", "domain": [0.000751, 1.26], "nice": false}, "axis": null},
    "y": {"field": "y", "type": "quantitative", "scale": {"domain": [-2.1, 25], "nice": false, "zero": false}, "axis": null},
    "color": {"field": "series", "type": "nominal", "scale": {"domain": ["Wild Type", "TRPM5-only", "TRPM4-only", "TRPM4/5-DKO"], "range": ["#000000", "#00ff00", "#ff0000", "#0000ff"]},
     "legend": {"title": null, "orient": "none", "legendX": 9, "legendY": 1, "padding": 2, "strokeColor": "#000", "fillColor": "#fff", "labelFontSize": 7.7, "labelColor": "#000", "symbolSize": 64, "symbolOpacity": 1, "labelOffset": 13, "rowPadding": -2}},
    "shape": {"field": "series", "type": "nominal", "scale": {"domain": ["Wild Type", "TRPM5-only", "TRPM4-only", "TRPM4/5-DKO"], "range": ["M-1,-0.19H4V0.19H-1ZM0.75,-0.75H2.25V0.75H0.75Z", "M-1,-0.19H4V0.19H-1ZM2.3,0A0.8,0.8,0,1,1,0.7,0A0.8,0.8,0,1,1,2.3,0Z", "M-1,-0.19H4V0.19H-1ZM1.5,-0.95L2.35,0.6H0.65Z", "M-1,-0.19H4V0.19H-1ZM1.5,0.95L0.65,-0.6H2.35Z"]},
     "legend": {"title": null, "orient": "none", "legendX": 9, "legendY": 1, "padding": 2, "strokeColor": "#000", "fillColor": "#fff", "labelFontSize": 7.7, "labelColor": "#000", "symbolSize": 64, "symbolOpacity": 1, "labelOffset": 13, "rowPadding": -2}}}},
  {"data": {"name": "stars"}, "transform": [{"filter": "datum.panel === 'E'"}],
   "mark": {"type": "text", "fontSize": 9, "dy": 2},
   "encoding": {
    "x": {"field": "x", "type": "quantitative", "scale": {"type": "log", "domain": [0.000751, 1.26], "nice": false}, "axis": {"orient": "top", "labels": false, "ticks": false, "domain": false, "title": "E", "titleFontSize": 30, "titleFontWeight": "normal", "titleX": -39, "titleY": -8, "titleAlign": "left", "titleBaseline": "alphabetic", "titleAngle": 0}},
    "y": {"field": "y", "type": "quantitative", "scale": {"domain": [-2.1, 25], "nice": false, "zero": false}, "axis": null},
    "text": {"field": "label"},
    "color": {"field": "series", "type": "nominal", "scale": {"domain": ["TRPM4/5-DKO", "TRPM4-only", "TRPM5-only", "Wild Type"], "range": ["#0000ff", "#ff0000", "#00ff00", "#000000"]}, "legend": null}}}
 ]
},
{
 "width": 227, "height": 190,
 "data": {"name": "pts"},
 "transform": [{"filter": "datum.panel === 'F'"}],
 "resolve": {"axis": {"x": "independent", "y": "independent"}, "scale": {"color": "independent", "shape": "independent"}},
 "layer": [
  {"mark": {"type": "line", "strokeWidth": 1.5},
   "encoding": {
    "x": {"field": "x", "type": "quantitative", "scale": {"type": "log", "domain": [38.7, 1000], "nice": false}, "axis": {"values": [100, 1000], "format": "~g", "title": "MSG (mM)"}},
    "y": {"field": "y", "type": "quantitative", "scale": {"domain": [0.4, 2.0], "nice": false, "zero": false}, "axis": {"values": [0.4, 0.8, 1.2, 1.6, 2.0], "format": ".1f", "title": "Lick Score"}},
    "color": {"field": "series", "type": "nominal", "scale": {"domain": ["TRPM4/5-DKO", "TRPM4-only", "TRPM5-only", "Wild Type"], "range": ["#0000ff", "#ff0000", "#00ff00", "#000000"]}, "legend": null}}},
  {"mark": {"type": "errorbar", "ticks": {"size": 7}, "thickness": 1.2},
   "encoding": {
    "x": {"field": "x", "type": "quantitative", "scale": {"type": "log", "domain": [38.7, 1000], "nice": false}, "axis": null},
    "y": {"field": "y", "type": "quantitative", "scale": {"domain": [0.4, 2.0], "nice": false, "zero": false}, "axis": null},
    "yError": {"field": "err"},
    "color": {"field": "series", "type": "nominal", "scale": {"domain": ["TRPM4/5-DKO", "TRPM4-only", "TRPM5-only", "Wild Type"], "range": ["#0000ff", "#ff0000", "#00ff00", "#000000"]}, "legend": null}}},
  {"mark": {"type": "point", "filled": true, "size": 40, "opacity": 1},
   "encoding": {
    "x": {"field": "x", "type": "quantitative", "scale": {"type": "log", "domain": [38.7, 1000], "nice": false}, "axis": {"orient": "bottom", "values": [40, 50, 60, 70, 80, 90, 200, 300, 400, 500, 600, 700, 800, 900], "labels": false, "domain": false, "tickSize": 2.5, "title": null}},
    "y": {"field": "y", "type": "quantitative", "scale": {"domain": [0.4, 2.0], "nice": false, "zero": false}, "axis": {"orient": "left", "values": [0.6, 1.0, 1.4, 1.8], "labels": false, "domain": false, "tickSize": 2.5, "title": null}},
    "color": {"field": "series", "type": "nominal", "scale": {"domain": ["TRPM4/5-DKO", "TRPM4-only", "TRPM5-only", "Wild Type"], "range": ["#0000ff", "#ff0000", "#00ff00", "#000000"]}, "legend": null},
    "shape": {"field": "series", "type": "nominal", "scale": {"domain": ["Wild Type", "TRPM5-only", "TRPM4-only", "TRPM4/5-DKO"], "range": ["square", "circle", "triangle-up", "triangle-down"]}, "legend": null}}},
  {"mark": {"type": "point", "filled": true, "opacity": 0},
   "encoding": {
    "x": {"field": "x", "type": "quantitative", "scale": {"type": "log", "domain": [38.7, 1000], "nice": false}, "axis": null},
    "y": {"field": "y", "type": "quantitative", "scale": {"domain": [0.4, 2.0], "nice": false, "zero": false}, "axis": null},
    "color": {"field": "series", "type": "nominal", "scale": {"domain": ["Wild Type", "TRPM5-only", "TRPM4-only", "TRPM4/5-DKO"], "range": ["#000000", "#00ff00", "#ff0000", "#0000ff"]},
     "legend": {"title": null, "orient": "none", "legendX": 7, "legendY": 9, "padding": 2, "strokeColor": "#000", "fillColor": "#fff", "labelFontSize": 8.2, "labelColor": "#000", "symbolSize": 64, "symbolOpacity": 1, "labelOffset": 13, "rowPadding": -2}},
    "shape": {"field": "series", "type": "nominal", "scale": {"domain": ["Wild Type", "TRPM5-only", "TRPM4-only", "TRPM4/5-DKO"], "range": ["M-1,-0.19H4V0.19H-1ZM0.75,-0.75H2.25V0.75H0.75Z", "M-1,-0.19H4V0.19H-1ZM2.3,0A0.8,0.8,0,1,1,0.7,0A0.8,0.8,0,1,1,2.3,0Z", "M-1,-0.19H4V0.19H-1ZM1.5,-0.95L2.35,0.6H0.65Z", "M-1,-0.19H4V0.19H-1ZM1.5,0.95L0.65,-0.6H2.35Z"]},
     "legend": {"title": null, "orient": "none", "legendX": 7, "legendY": 9, "padding": 2, "strokeColor": "#000", "fillColor": "#fff", "labelFontSize": 8.2, "labelColor": "#000", "symbolSize": 64, "symbolOpacity": 1, "labelOffset": 13, "rowPadding": -2}}}},
  {"data": {"name": "stars"}, "transform": [{"filter": "datum.panel === 'F'"}],
   "mark": {"type": "text", "fontSize": 9, "dy": 2},
   "encoding": {
    "x": {"field": "x", "type": "quantitative", "scale": {"type": "log", "domain": [38.7, 1000], "nice": false}, "axis": {"orient": "top", "labels": false, "ticks": false, "domain": false, "title": "F", "titleFontSize": 30, "titleFontWeight": "normal", "titleX": -36, "titleY": -8, "titleAlign": "left", "titleBaseline": "alphabetic", "titleAngle": 0}},
    "y": {"field": "y", "type": "quantitative", "scale": {"domain": [0.4, 2.0], "nice": false, "zero": false}, "axis": null},
    "text": {"field": "label"},
    "color": {"field": "series", "type": "nominal", "scale": {"domain": ["TRPM4/5-DKO", "TRPM4-only", "TRPM5-only", "Wild Type"], "range": ["#0000ff", "#ff0000", "#00ff00", "#000000"]}, "legend": null}}}
 ]
}
]
}
